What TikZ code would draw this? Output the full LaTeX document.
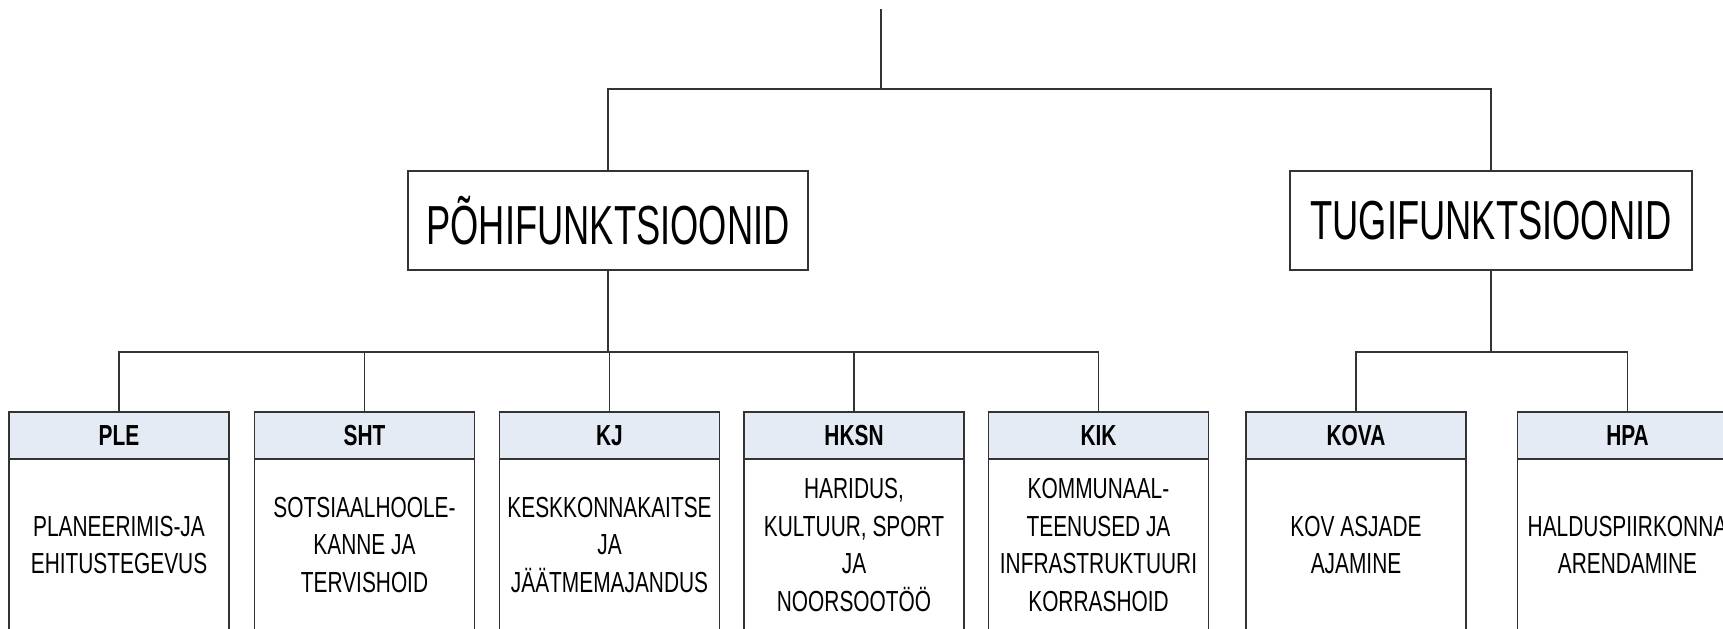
\documentclass[tikz,border=0pt]{standalone}
\usepackage{fontspec}
\setmainfont{Liberation Sans}
\newfontfamily\narrowfont[FakeStretch=0.72]{Liberation Sans}
\newfontfamily\narrowtopfont[FakeStretch=0.66]{Liberation Sans}
\usetikzlibrary{positioning}
\definecolor{headblue}{HTML}{E4EBF5}
\definecolor{linegray}{HTML}{333333}
\tikzset{
        orgnode/.style={align=center,inner sep=0pt,outer sep=0pt,draw=linegray,line width=0.7pt},
        % Function group boxes
        group_box/.style={orgnode, rectangle, fill=white, minimum width=200pt, minimum height=49.5pt, font=\narrowtopfont\fontsize{27.5}{32}\selectfont},
        % Unit headers
        unit_head/.style={orgnode, rectangle, fill=headblue, minimum width=110pt, minimum height=23.5pt, font=\narrowfont\bfseries\fontsize{14.5}{17}\selectfont},
        % Unit bodies
        unit_body/.style={orgnode, rectangle, fill=white, minimum width=110pt, minimum height=86pt, font=\narrowfont\fontsize{14.5}{18.8}\selectfont},
        % Connectors
        link/.style={draw=linegray, line width=0.7pt}
}
\begin{document}
\begin{tikzpicture}[x=0.5pt,y=-0.5pt]
            \useasboundingbox (0,0) rectangle (1723,628);
            \clip (0,0) rectangle (1723,628);
            % Function groups
            \node[group_box] (pohi) at (608,220.5) {PÕHIFUNKTSIOONID};
            \node[group_box, minimum width=201pt] (tugi) at (1491,220.5) {TUGIFUNKTSIOONID};
            % Units
            \node[unit_head] (ple) at (119,435.5) {PLE};
            \node[unit_body, below=0pt of ple] (ple_body) {PLANEERIMIS-JA\\EHITUSTEGEVUS};
            \node[unit_head] (sht) at (364.5,435.5) {SHT};
            \node[unit_body, below=0pt of sht] (sht_body) {SOTSIAALHOOLE-\\KANNE JA\\TERVISHOID};
            \node[unit_head] (kj) at (609.5,435.5) {KJ};
            \node[unit_body, below=0pt of kj] (kj_body) {KESKKONNAKAITSE\\JA\\JÄÄTMEMAJANDUS};
            \node[unit_head] (hksn) at (854,435.5) {HKSN};
            \node[unit_body, below=0pt of hksn] (hksn_body) {HARIDUS,\\KULTUUR, SPORT\\JA\\NOORSOOTÖÖ};
            \node[unit_head] (kik) at (1098.5,435.5) {KIK};
            \node[unit_body, below=0pt of kik] (kik_body) {KOMMUNAAL-\\TEENUSED JA\\INFRASTRUKTUURI\\KORRASHOID};
            \node[unit_head] (kova) at (1356,435.5) {KOVA};
            \node[unit_body, below=0pt of kova] (kova_body) {KOV ASJADE\\AJAMINE};
            \node[unit_head] (hpa) at (1627.5,435.5) {HPA};
            \node[unit_body, below=0pt of hpa] (hpa_body) {HALDUSPIIRKONNA\\ARENDAMINE};
            % Connectors
            \coordinate (top) at (881,9);
            \coordinate (top_fork) at (881,89);
            \draw[link] (top) -- (top_fork);
            \draw[link] (pohi) |- (top_fork) -| (tugi);
            \draw[link] (pohi.south) -- ++(0,82) coordinate (pohi_fork);
            \draw[link] (ple) |- (pohi_fork) -| (kik);
            \draw[link] (sht) -- (sht |- pohi_fork);
            \draw[link] (kj) -- (kj |- pohi_fork);
            \draw[link] (hksn) -- (hksn |- pohi_fork);
            \draw[link] (tugi.south) -- ++(0,82) coordinate (tugi_fork);
            \draw[link] (kova) |- (tugi_fork) -| (hpa);
\end{tikzpicture}
\end{document}
